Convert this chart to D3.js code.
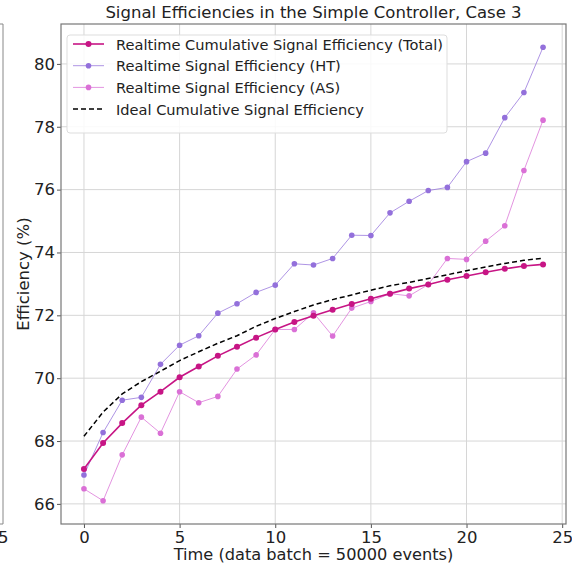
<!DOCTYPE html>
<html>
<head>
<meta charset="utf-8">
<script src="https://cdn.jsdelivr.net/npm/d3@7"></script>
<style>
  body { margin: 0; background: #fff; }
  svg { display: block; font-family: 'DejaVu Sans', sans-serif; }
</style>
</head>
<body>
<div id="chartwrap"></div>
<script>
const WIDTH = 572;
const HEIGHT = 563;

const chart = { left: 61, right: 566, top: 24, bottom: 524 };

const batches = d3.range(25);

const total = [67.11, 67.94, 68.57, 69.14, 69.57, 70.03, 70.37, 70.71, 71.00, 71.29,
  71.55, 71.79, 71.99, 72.18, 72.36, 72.53, 72.69, 72.85, 72.98, 73.13,
  73.25, 73.37, 73.48, 73.57, 73.62];
const ht = [66.92, 68.27, 69.30, 69.39, 70.44, 71.05, 71.35, 72.07, 72.37, 72.73,
  72.96, 73.64, 73.60, 73.81, 74.55, 74.54, 75.26, 75.63, 75.97, 76.07,
  76.89, 77.16, 78.29, 79.09, 80.53];
const as = [66.48, 66.10, 67.56, 68.76, 68.25, 69.57, 69.22, 69.42, 70.29, 70.74,
  71.55, 71.55, 72.08, 71.34, 72.23, 72.44, 72.69, 72.62, 72.98, 73.81,
  73.78, 74.36, 74.85, 76.61, 78.21];
const ideal = [68.15, 68.92, 69.50, 69.89, 70.22, 70.56, 70.84, 71.11, 71.35, 71.65,
  71.90, 72.12, 72.33, 72.50, 72.65, 72.80, 72.94, 73.05, 73.17, 73.29,
  73.42, 73.54, 73.65, 73.75, 73.82];

const xTicks = [0, 5, 10, 15, 20, 25];
const yTicks = [66, 68, 70, 72, 74, 76, 78, 80];

const series = [
  { name: 'Realtime Cumulative Signal Efficiency (Total)', values: total, color: '#c71585', width: 1.6, r: 3, opacity: 1 },
  { name: 'Realtime Signal Efficiency (HT)', values: ht, color: '#9370db', width: 1, r: 2.8, opacity: 0.75 },
  { name: 'Realtime Signal Efficiency (AS)', values: as, color: '#da70d6', width: 1, r: 2.8, opacity: 0.75 },
  { name: 'Ideal Cumulative Signal Efficiency', values: ideal, color: '#000', width: 1.5, r: 0, dash: '5,3' }
];

const xScale = d3.scaleLinear().domain([-1.2, 25.2]).range([chart.left, chart.right]);
const yScale = d3.scaleLinear().domain([65.36, 81.27]).range([chart.bottom, chart.top]);

const svg = d3.select('#chartwrap')
  .append('svg')
  .attr('width', WIDTH)
  .attr('height', HEIGHT);

// edge of the neighbouring subplot
svg.append('path')
  .attr('d', `M0,${chart.top}H3V${chart.bottom}H0`)
  .attr('fill', 'none')
  .attr('stroke', '#888')
  .attr('stroke-width', 1);
svg.append('text')
  .attr('x', -2)
  .attr('y', chart.bottom + 19)
  .attr('text-anchor', 'middle')
  .attr('font-size', 16.5)
  .attr('fill', '#222')
  .text('25');

// grid
svg.append('g')
  .selectAll('line')
  .data(xTicks)
  .join('line')
  .attr('x1', d => xScale(d)).attr('x2', d => xScale(d))
  .attr('y1', chart.top).attr('y2', chart.bottom)
  .attr('stroke', '#d6d6d6').attr('stroke-width', 1);
svg.append('g')
  .selectAll('line')
  .data(yTicks)
  .join('line')
  .attr('x1', chart.left).attr('x2', chart.right)
  .attr('y1', d => yScale(d)).attr('y2', d => yScale(d))
  .attr('stroke', '#d6d6d6').attr('stroke-width', 1);

// axes
const xAxis = svg.append('g')
  .attr('transform', `translate(0,${chart.bottom})`)
  .call(d3.axisBottom(xScale).tickValues(xTicks).tickSize(4).tickPadding(3));
const yAxis = svg.append('g')
  .attr('transform', `translate(${chart.left},0)`)
  .call(d3.axisLeft(yScale).tickValues(yTicks).tickSize(4).tickPadding(2));
[xAxis, yAxis].forEach(g => {
  g.select('.domain').remove();
  g.selectAll('text').attr('font-size', 16.5).attr('fill', '#222').attr('font-family', 'DejaVu Sans');
  g.selectAll('line').attr('stroke', '#555');
});

svg.append('rect')
  .attr('x', chart.left).attr('y', chart.top)
  .attr('width', chart.right - chart.left).attr('height', chart.bottom - chart.top)
  .attr('fill', 'none').attr('stroke', '#777').attr('stroke-width', 1.2);

// lines
const line = d3.line()
  .x((d, i) => xScale(batches[i]))
  .y(d => yScale(d));

const order = [3, 1, 2, 0];
order.forEach(k => {
  const s = series[k];
  svg.append('path')
    .datum(s.values)
    .attr('d', line)
    .attr('fill', 'none')
    .attr('stroke', s.color)
    .attr('stroke-width', s.width)
    .attr('stroke-opacity', s.opacity || 1)
    .attr('stroke-dasharray', s.dash || null);
  if (s.r > 0) {
    svg.append('g')
      .selectAll('circle')
      .data(s.values)
      .join('circle')
      .attr('cx', (d, i) => xScale(batches[i]))
      .attr('cy', d => yScale(d))
      .attr('r', s.r)
      .attr('fill', s.color);
  }
});

// title and labels
svg.append('text')
  .attr('x', (chart.left + chart.right) / 2)
  .attr('y', 18)
  .attr('text-anchor', 'middle')
  .attr('font-size', 16.5)
  .attr('fill', '#222')
  .text('Signal Efficiencies in the Simple Controller, Case 3');

svg.append('text')
  .attr('x', (chart.left + chart.right) / 2)
  .attr('y', 560)
  .attr('text-anchor', 'middle')
  .attr('font-size', 16.2)
  .attr('fill', '#222')
  .text('Time (data batch = 50000 events)');

svg.append('text')
  .attr('transform', `translate(29,${(chart.top + chart.bottom) / 2}) rotate(-90)`)
  .attr('text-anchor', 'middle')
  .attr('font-size', 16.5)
  .attr('fill', '#222')
  .text('Efficiency (%)');

// legend
const legend = svg.append('g').attr('transform', 'translate(67,35)');
legend.append('rect')
  .attr('width', 380).attr('height', 98).attr('rx', 3)
  .attr('fill', 'rgba(255,255,255,0.85)')
  .attr('stroke', '#ddd');
series.forEach((s, i) => {
  const y = 9 + i * 21.7;
  legend.append('line')
    .attr('x1', 6).attr('x2', 37).attr('y1', y).attr('y2', y)
    .attr('stroke', s.color)
    .attr('stroke-width', s.width)
    .attr('stroke-opacity', s.opacity || 1)
    .attr('stroke-dasharray', s.dash || null);
  if (s.r > 0) {
    legend.append('circle').attr('cx', 21.5).attr('cy', y).attr('r', s.r).attr('fill', s.color);
  }
  legend.append('text')
    .attr('x', 49).attr('y', y + 5.5)
    .attr('font-size', 14.6)
    .attr('fill', '#222')
    .text(s.name);
});
</script>
</body>
</html>
